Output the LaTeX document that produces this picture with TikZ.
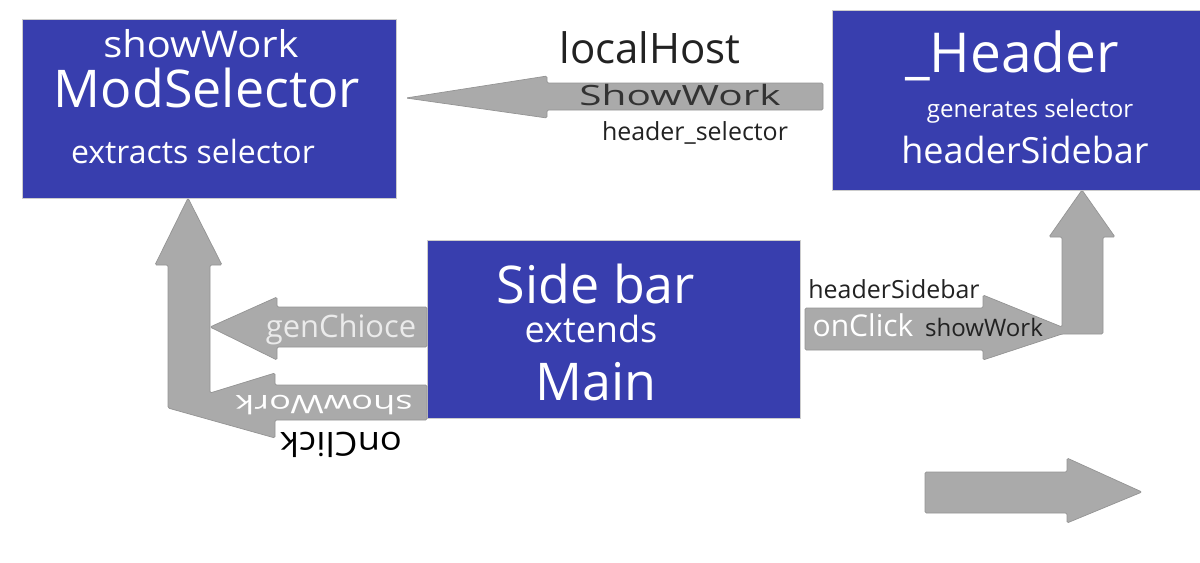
\documentclass[tikz,border=0pt]{standalone}
\usepackage{fontspec}
\setmainfont{Open Sans}

\definecolor{boxblue}{RGB}{56,62,174}
\definecolor{arrowgray}{RGB}{170,170,170}
\definecolor{arrowedge}{RGB}{148,148,148}
\definecolor{labeldark}{RGB}{34,34,34}

\newcommand{\pxfont}[1]{\fontsize{#1}{#1}\selectfont}

\tikzset{
  blockbox/.style={fill=boxblue, draw=black!20, line width=0.4pt, inner sep=0pt},
  boxtext/.style={text=white, inner sep=0pt, anchor=base},
  darktext/.style={text=labeldark, inner sep=0pt, anchor=base},
  blockarrow/.style={fill=arrowgray, draw=arrowedge, line width=0.4pt, rounded corners=0.8pt}
}

\begin{document}
\begin{tikzpicture}[x=0.02cm, y=-0.02cm]
  \clip (0,0) rectangle (1200,562);
  \fill[white] (0,0) rectangle (1200,562);

  % boxes
  \node[blockbox, minimum width=7.48cm, minimum height=3.58cm] (modsel) at (209,108.5) {};
  \node[blockbox, minimum width=7.48cm, minimum height=3.6cm] (header) at (1019,100) {};
  \node[blockbox, minimum width=7.46cm, minimum height=3.56cm] (sidebar) at (613.5,329) {};

  % arrows
  \draw[blockarrow] (406,98) -- (547,76) -- (547,83) -- (823,83) -- (823,110)
        -- (547,110) -- (547,118) -- cycle;
  \draw[blockarrow] (188,198) -- (222,265) -- (210,265) -- (210,393) -- (275,373)
        -- (275,385) -- (427,385) -- (427,420) -- (275,420) -- (275,438)
        -- (168,408) -- (168,265) -- (155,265) -- cycle;
  \draw[blockarrow] (210,327) -- (277,297) -- (277,307) -- (427,307) -- (427,347)
        -- (277,347) -- (277,360) -- cycle;
  \draw[blockarrow] (805,308) -- (983,308) -- (983,295) -- (1062,327) -- (1062,237)
        -- (1049,237) -- (1082,190) -- (1115,237) -- (1103,237) -- (1103,334)
        -- (1062,334) -- (983,360) -- (983,350) -- (805,350) -- cycle;
  \draw[blockarrow] (925,472) -- (1067,472) -- (1067,458) -- (1142,492) -- (1067,523)
        -- (1067,513) -- (925,513) -- cycle;

  % texts in the boxes
  \node[boxtext, font=\pxfont{21pt}] (modselTop) at (201,57) {\scalebox{1.08}[1]{showWork}};
  \node[boxtext, font=\pxfont{29.6pt}] (modselName) at (207,107) {ModSelector};
  \node[boxtext, font=\pxfont{18.2pt}] (modselNote) at (193,163) {extracts selector};
  \node[boxtext, font=\pxfont{31.3pt}] (headerName) at (1012,72) {\_Header};
  \node[boxtext, font=\pxfont{13.7pt}] (headerNote) at (1030,117) {generates selector};
  \node[boxtext, font=\pxfont{20.5pt}] (headerBottom) at (1025,163) {headerSidebar};
  \node[boxtext, font=\pxfont{29.6pt}] (sidebarName) at (596,303) {Side bar};
  \node[boxtext, font=\pxfont{20.5pt}] (sidebarNote) at (591,342) {extends};
  \node[boxtext, font=\pxfont{29.6pt}] (sidebarMain) at (596,400) {Main};

  % texts on the arrows
  \node[darktext, font=\pxfont{23.9pt}] (hostLabel) at (650,63) {localHost};
  \node[darktext, text=black!80, font=\pxfont{15.9pt}] (showLabel) at (680,105) {\scalebox{1.45}[1]{ShowWork}};
  \node[darktext, font=\pxfont{14.2pt}] (selLabel) at (695,140) {header\_selector};
  \node[boxtext, text=white!92!black, font=\pxfont{17.6pt}] (genLabel) at (341,337) {genChioce};
  \node[boxtext, rotate=180, font=\pxfont{14.5pt}] (flipShow) at (324,395) {\scalebox{1.42}[1]{showWork}};
  \node[darktext, text=black, rotate=180, font=\pxfont{18.8pt}] (flipClick) at (341,432) {\scalebox{1.1}[1]{onClick}};
  \node[darktext, font=\pxfont{14.2pt}] (sideLabel) at (894,298) {headerSidebar};
  \node[boxtext, font=\pxfont{17.1pt}] (clickLabel) at (863,336) {onClick};
  \node[darktext, font=\pxfont{13.7pt}] (workLabel) at (984,336) {showWork};
\end{tikzpicture}
\end{document}
